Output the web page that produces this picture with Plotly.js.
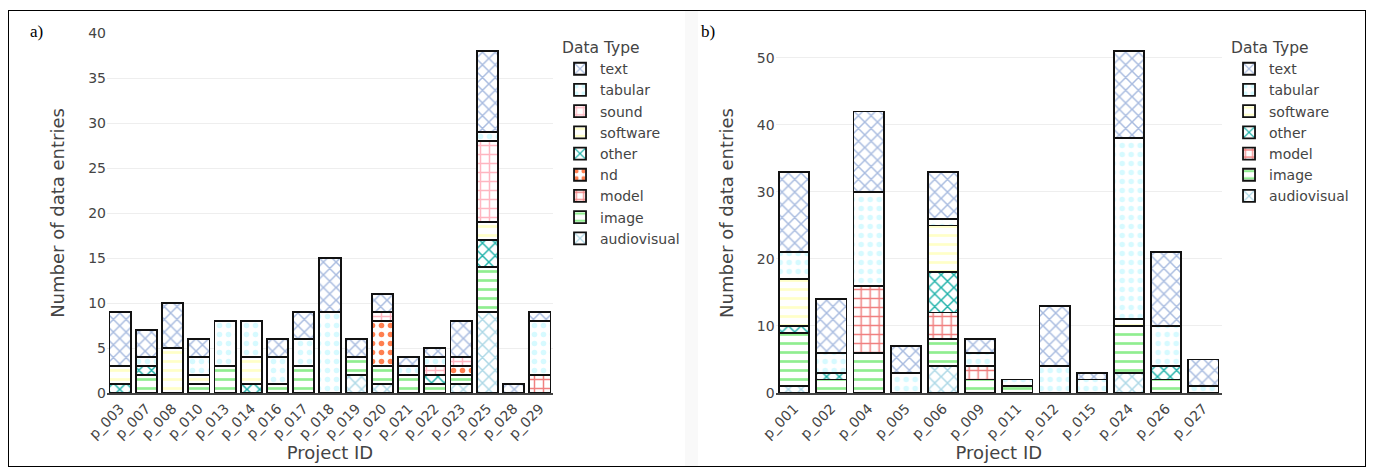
<!DOCTYPE html>
<html><head><meta charset="utf-8">
<script src="https://cdn.plot.ly/plotly-3.0.1.min.js"></script>
<style>
html,body{margin:0;padding:0;background:#fff;}
#wrap{position:relative;width:1375px;height:475px;overflow:hidden;background:#fff;}
#strip{position:absolute;left:685px;top:11px;width:13px;height:455px;background:#f9f9f9;}
#chart{position:absolute;left:0;top:0;width:1375px;height:475px;}
#frame{position:absolute;left:8px;top:10px;width:1358px;height:457px;border:1px solid #000;box-sizing:border-box;pointer-events:none;z-index:5;}
.lab{position:absolute;font-family:"Liberation Serif",serif;font-size:17px;color:#000;z-index:6;}
</style></head>
<body><div id="wrap">
<div id="strip"></div>
<div id="chart"></div>
<div id="frame"></div>
<div class="lab" style="left:30px;top:22px;">a)</div>
<div class="lab" style="left:701px;top:22px;">b)</div>
</div>
<script>
// ---- Panel a data ----
const catsA = ['p_003','p_007','p_008','p_010','p_013','p_014','p_016','p_017','p_018','p_019','p_020','p_021','p_022','p_023','p_025','p_028','p_029'];
const a_audiovisual = [0,0,0,0,0,0,0,0,0,2,1,0,0,1,9,0,0];
const a_image       = [0,2,0,1,3,0,1,3,0,2,2,2,1,1,5,0,0];
const a_model       = [0,0,0,0,0,0,0,0,0,0,0,0,0,0,0,0,2];
const a_nd          = [0,0,0,0,0,0,0,0,0,0,5,0,0,1,0,0,0];
const a_other       = [1,1,0,0,0,1,0,0,0,0,0,0,1,0,3,0,0];
const a_software    = [2,0,5,1,0,3,0,0,0,0,0,0,0,0,2,0,0];
const a_sound       = [0,0,0,0,0,0,0,0,0,0,1,0,1,1,9,0,0];
const a_tabular     = [0,1,0,2,5,4,3,3,9,0,0,1,1,0,1,0,6];
const a_text        = [6,3,5,2,0,0,2,3,6,2,2,1,1,4,9,1,1];

// ---- Panel b data ----
const catsB = ['p_001','p_002','p_004','p_005','p_006','p_009','p_011','p_012','p_015','p_024','p_026','p_027'];
const b_audiovisual = [1,0,0,0,4,0,0,0,0,3,0,0];
const b_image       = [8,2,6,0,4,2,1,0,0,7,2,0];
const b_model       = [0,0,10,0,4,2,0,0,0,0,0,0];
const b_other       = [1,1,0,0,6,0,0,0,0,0,2,0];
const b_software    = [7,0,0,0,7,0,0,0,0,1,0,0];
const b_tabular     = [4,3,14,3,1,2,1,4,2,27,6,1];
const b_text        = [12,8,12,4,7,2,0,9,1,13,11,4];

// ---- styles per data type ----
const styles = {
  audiovisual:{color:'#ADD8E6', shape:'x'},
  image:{color:'#90EE90', shape:'-'},
  model:{color:'#F08080', shape:'+'},
  nd:{color:'#FF7F50', shape:'.'},
  other:{color:'#20B2AA', shape:'x'},
  software:{color:'#FFFFC8', shape:'-'},
  sound:{color:'#FFB6C1', shape:'+'},
  tabular:{color:'#D6FAFF', shape:'.'},
  text:{color:'#A9BCE0', shape:'x'}
};

function mk(name, cats, vals, xa, ya, leg){
  const s = styles[name];
  return {
    type:'bar', name:name, x:cats, y:vals.map(v => v === 0 ? null : v),
    xaxis:xa, yaxis:ya, legend:leg, legendgroup:leg+name,
    marker:{color:s.color, line:{color:'#111', width:1.8},
      pattern:{shape:s.shape, fillmode:'replace', size:9, solidity:0.3, bgcolor:'#fff', fgcolor:s.color}},
    hoverinfo:'x+y+name'
  };
}

const seriesA = [['audiovisual',a_audiovisual],['image',a_image],['model',a_model],['nd',a_nd],['other',a_other],['software',a_software],['sound',a_sound],['tabular',a_tabular],['text',a_text]];
const seriesB = [['audiovisual',b_audiovisual],['image',b_image],['model',b_model],['other',b_other],['software',b_software],['tabular',b_tabular],['text',b_text]];

const data = [];
seriesA.forEach(([n,v]) => data.push(mk(n, catsA, v, 'x', 'y', 'legend')));
seriesB.forEach(([n,v]) => data.push(mk(n, catsB, v, 'x2', 'y2', 'legend2')));

const axFont = {family:'DejaVu Sans', size:14, color:'#444'};
const xCommon = {type:'category', tickangle:-45, showline:true, linecolor:'#444', linewidth:2,
  showgrid:false, ticks:'', tickfont:axFont, title:{text:'Project ID', font:{size:18, color:'#444'}, standoff:5}};
const yCommon = {gridcolor:'#eeeeee', gridwidth:1, zeroline:false, showline:false, ticks:'', tickfont:axFont,
  title:{text:'Number of data entries', font:{size:18, color:'#444'}, standoff:18}};

const legCommon = {title:{text:'Data Type', font:{size:15.5, color:'#444'}}, font:{size:14, color:'#444'},
  traceorder:'reversed', xanchor:'left', yanchor:'top', bgcolor:'rgba(0,0,0,0)'};

const layout = {
  width:1375, height:475,
  margin:{l:107, r:153, t:33, b:82},
  paper_bgcolor:'rgba(0,0,0,0)', plot_bgcolor:'#ffffff',
  font:{family:'DejaVu Sans', size:14, color:'#444'},
  barmode:'stack', bargap:0.19,
  xaxis:Object.assign({}, xCommon, {domain:[0,0.4], anchor:'y'}),
  yaxis:Object.assign({}, yCommon, {range:[0,40], dtick:5, anchor:'x'}),
  xaxis2:Object.assign({}, xCommon, {domain:[0.5997,1], anchor:'y2'}),
  yaxis2:Object.assign({}, yCommon, {range:[0,53.7], dtick:10, anchor:'x2'}),
  legend:Object.assign({}, legCommon, {x:0.4063, y:1.0}),
  legend2:Object.assign({}, legCommon, {x:1.0063, y:1.0}),
  showlegend:true
};

Plotly.newPlot('chart', data, layout, {displayModeBar:false, staticPlot:true});
</script>
</body></html>
